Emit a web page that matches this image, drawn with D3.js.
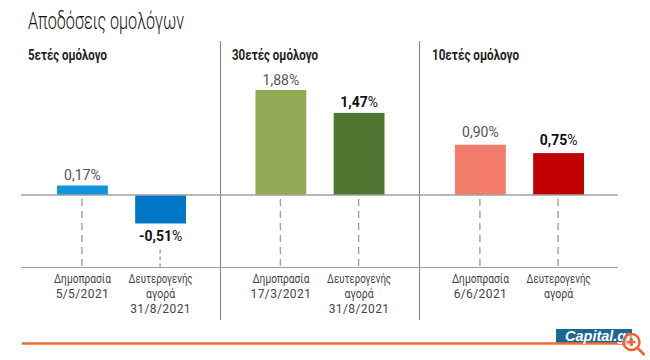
<!DOCTYPE html>
<html>
<head>
<meta charset="utf-8">
<script src="https://cdn.jsdelivr.net/npm/d3@7"></script>
<style>
  html, body { margin: 0; padding: 0; background: #fff; }
  svg { display: block; }
  text { font-family: Roboto, sans-serif; }
</style>
</head>
<body>
<svg width="650" height="360"></svg>
<script>
const chartTitle = 'Αποδόσεις ομολόγων';
const panelTitles = ['5ετές ομόλογο', '30ετές ομόλογο', '10ετές ομόλογο'];
const barKeys = ['auction', 'secondary'];
const panelValues = [
    [0.17, -0.51],
    [1.88, 1.47],
    [0.90, 0.75]
];
const panelColors = [
    ['#0d96dc', '#0077c6'],
    ['#92aa55', '#4f7530'],
    ['#f47c6b', '#c00000']
];
const panelLabels = [
    [['Δημοπρασία', '5/5/2021'], ['Δευτερογενής', 'αγορά', '31/8/2021']],
    [['Δημοπρασία', '17/3/2021'], ['Δευτερογενής', 'αγορά', '31/8/2021']],
    [['Δημοπρασία', '6/6/2021'], ['Δευτερογενής', 'αγορά']]
];

const SVG = d3.select('svg');
const ZERO_Y = 195;
const BOTTOM_Y = 267.5;
const PX_PER_UNIT = 55.85;
const PANEL_BARS_LEFT = [57, 255.5, 455];
const PANEL_TITLE_X = [28, 232, 432];
const PANEL_TITLE_W = [79, 86, 87];
// gap between bar end and value label, hand placed in the original
const VALUE_GAPS = [[5.5, 17.5], [5, 6], [8, 8]];
// the original font is narrower on words, wider on digits
const WORD_WIDTHS = { 'Δημοπρασία': 57, 'Δευτερογενής': 64, 'αγορά': 29 };
const DIVIDERS_X = [220.5, 419.5];
const GREY = '#a0a0a0';
const fmt = v => v.toFixed(2).replace('.', ',');

const Y_SCALE = d3.scaleLinear()
    .domain([-1, 2])
    .range([ZERO_Y + PX_PER_UNIT, ZERO_Y - 2 * PX_PER_UNIT]);

// same two-bar layout inside each panel, shifted by the panel's left edge
const X_INNER = d3.scaleBand()
    .domain(barKeys)
    .range([0, 129])
    .paddingInner(0.35);

SVG.append('text')
    .attr('x', 28)
    .attr('y', 29)
    .attr('textLength', 156)
    .attr('lengthAdjust', 'spacingAndGlyphs')
    .style('font-weight', 300)
    .style('font-size', '23px')
    .style('fill', '#111')
    .text(chartTitle);

// divider lines between panels
SVG.selectAll('.divider')
    .data(DIVIDERS_X)
    .join('line')
    .attr('class', 'divider')
    .attr('x1', d => d).attr('x2', d => d)
    .attr('y1', 41).attr('y2', 320)
    .style('stroke', '#808080')
    .style('stroke-width', 1);

const PANELS = SVG.selectAll('.panel')
    .data(panelTitles)
    .join('g')
    .attr('class', 'panel');

PANELS.append('text')
    .attr('x', (d, i) => PANEL_TITLE_X[i])
    .attr('y', 60)
    .attr('textLength', (d, i) => PANEL_TITLE_W[i])
    .attr('lengthAdjust', 'spacingAndGlyphs')
    .style('font-weight', 700)
    .style('font-size', '14.5px')
    .style('fill', '#222')
    .text(d => d);

PANELS.each(function (title, p) {
    const panel = d3.select(this).append('g')
        .attr('transform', `translate(${PANEL_BARS_LEFT[p]},0)`);
    const rows = barKeys.map((key, i) => ({
        key,
        i,
        value: panelValues[p][i],
        color: panelColors[p][i],
        label: panelLabels[p][i],
        gap: VALUE_GAPS[p][i]
    }));
    const cx = d => X_INNER(d.key) + X_INNER.bandwidth() / 2;

    // dashed drop lines down to the bottom rule
    panel.selectAll('.drop')
        .data(rows)
        .join('line')
        .attr('class', 'drop')
        .attr('x1', d => cx(d) - 0.5).attr('x2', d => cx(d) - 0.5)
        .attr('y1', d => d.value < 0 ? Y_SCALE(d.value) + 26 : ZERO_Y + 4)
        .attr('y2', BOTTOM_Y)
        .style('stroke', d => d.value < 0 ? '#777' : GREY)
        .style('stroke-width', d => d.value < 0 ? 1 : 1.4)
        .style('stroke-dasharray', d => d.value < 0 ? '4 3' : '7 5');

    panel.selectAll('rect')
        .data(rows)
        .join('rect')
        .attr('x', d => X_INNER(d.key))
        .attr('width', X_INNER.bandwidth())
        .attr('y', d => Y_SCALE(Math.max(d.value, 0)))
        .attr('height', d => Math.abs(Y_SCALE(d.value) - Y_SCALE(0)))
        .style('fill', d => d.color);

    const values = panel.selectAll('.value')
        .data(rows)
        .join('text')
        .attr('class', 'value')
        .attr('x', cx)
        .attr('y', d => d.value < 0 ? Y_SCALE(d.value) + d.gap : Y_SCALE(d.value) - d.gap)
        .attr('text-anchor', 'middle')
        .style('font-size', '14px')
        .style('fill', d => d.i === 1 ? '#111' : '#555');
    values.append('tspan')
        .style('font-weight', d => d.i === 1 ? 700 : 400)
        .text(d => fmt(d.value));
    values.append('tspan')
        .style('font-weight', 400)
        .text('%');

    // one text per label line, so each word can be fitted to its own width
    panel.selectAll('.cat')
        .data(rows)
        .join('g')
        .attr('class', 'cat')
        .selectAll('text')
        .data(d => d.label.map((line, n) => ({ line, n, x: cx(d) })))
        .join('text')
        .attr('text-anchor', 'middle')
        .attr('x', d => d.x)
        .attr('y', d => 282.5 + d.n * 15)
        .attr('textLength', d => WORD_WIDTHS[d.line] || null)
        .attr('lengthAdjust', 'spacingAndGlyphs')
        .style('letter-spacing', d => WORD_WIDTHS[d.line] ? null : '0.4px')
        .style('font-size', '12px')
        .style('fill', '#444')
        .text(d => d.line);
});

// zero line and bottom rule
SVG.append('line')
    .attr('x1', 21).attr('x2', 618)
    .attr('y1', Y_SCALE(0)).attr('y2', Y_SCALE(0))
    .style('stroke', GREY).style('stroke-width', 1.5);
SVG.append('line')
    .attr('x1', 21).attr('x2', 618)
    .attr('y1', BOTTOM_Y).attr('y2', BOTTOM_Y)
    .style('stroke', GREY).style('stroke-width', 1);

// footer: logo, orange rule and the magnifier badge
SVG.append('rect')
    .attr('x', 556).attr('y', 329)
    .attr('width', 76).attr('height', 15)
    .style('fill', '#1b6892');
SVG.append('line')
    .attr('x1', 22).attr('x2', 632)
    .attr('y1', 343.5).attr('y2', 343.5)
    .style('stroke', '#f26a35').style('stroke-width', 2.5);
SVG.append('text')
    .attr('x', 565).attr('y', 341)
    .style('font-family', '"Liberation Sans", sans-serif')
    .style('font-weight', 700)
    .style('font-style', 'italic')
    .style('font-size', '14.5px')
    .style('fill', '#fff')
    .text('Capital.gr');

const BADGE = SVG.append('g').attr('transform', 'translate(631.5,342)');
BADGE.append('circle')
    .attr('r', 8)
    .style('fill', 'rgba(255,255,255,0.6)')
    .style('stroke', '#f0622b').style('stroke-width', 2.5);
BADGE.append('path')
    .attr('d', 'M6,6L13,13M-4,0H4M0,-4V4')
    .style('fill', 'none')
    .style('stroke', '#f0622b').style('stroke-width', 2.5);
</script>
</body>
</html>
